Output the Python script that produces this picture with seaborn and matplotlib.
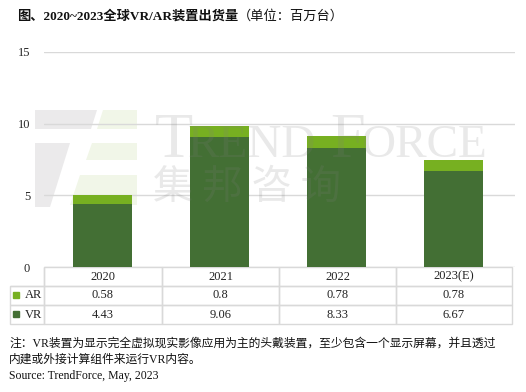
import numpy as np
import pandas as pd
import matplotlib
matplotlib.use('Agg')
import matplotlib.pyplot as plt
from matplotlib.patches import Polygon
import seaborn as sns

# Data (million units)
years = ['2020', '2021', '2022', '2023(E)']
vr_units = [4.43, 9.06, 8.33, 6.67]
ar_units = [0.58, 0.8, 0.78, 0.78]
yticks = [0, 5, 10, 15]

title_bold = '图、2020~2023全球VR/AR装置出货量'
title_unit = '（单位：百万台）'
note_lines = ['注：VR装置为显示完全虚拟现实影像应用为主的头戴装置，至少包含一个显示屏幕，并且透过',
              '内建或外接计算组件来运行VR内容。']
source_text = 'Source: TrendForce, May, 2023'

VR_COLOR = '#436F34'
AR_COLOR = '#77B021'
GRID_COLOR = '#D9D9D9'

sns.set_theme(style='white')
plt.rcParams['font.family'] = ['Liberation Serif', 'Noto Sans CJK SC', 'DejaVu Sans']

W, H = 526, 392
fig = plt.figure(figsize=(W / 100, H / 100), dpi=100)
fig.patch.set_facecolor('white')


def fx(px):
    return px / W


def fy(py):
    return 1 - py / H


# plot area in pixels
left, right, top, bottom = 44, 515, 52, 267
ax = fig.add_axes([fx(left), fy(bottom), fx(right - left), (bottom - top) / H])

df = pd.DataFrame({'year': years, 'VR': vr_units, 'AR': ar_units})
df['total'] = df['VR'] + df['AR']

sns.barplot(data=df, x='year', y='total', color=AR_COLOR, width=0.5,
            saturation=1, linewidth=0, ax=ax)
sns.barplot(data=df, x='year', y='VR', color=VR_COLOR, width=0.5,
            saturation=1, linewidth=0, ax=ax)

ax.set_xlim(-0.5, 3.5 + 3 / 117)
ax.set_ylim(0, 15)
ax.set_yticks(yticks)
ax.set_axisbelow(False)
ax.yaxis.grid(True, color=GRID_COLOR, linewidth=1)
ax.tick_params(axis='x', labelbottom=False, length=0)
ax.tick_params(axis='y', length=0, pad=10, labelsize=9)
ax.set_xlabel('')
ax.set_ylabel('')
for s in ax.spines.values():
    s.set_visible(False)
for bar in ax.patches:
    bar.set_zorder(3)
for gl in ax.get_ygridlines():
    gl.set_zorder(1)

# data table below the bars
axw = right - left
axh = bottom - top
tab_l, tab_r, tab_t, tab_b = 10, 512, 267, 324
cell_text = [[''] + years,
             ['AR'] + [f'{v:g}' for v in ar_units],
             ['VR'] + [f'{v:g}' for v in vr_units]]
tbl = ax.table(cellText=cell_text,
               colWidths=[34, 118, 117, 117, 116],
               cellLoc='center',
               bbox=[(tab_l - left) / axw, -(tab_b - bottom) / axh,
                     (tab_r - tab_l) / axw, (tab_b - tab_t) / axh])
tbl.auto_set_font_size(False)
for (r, c), cell in tbl.get_celld().items():
    cell.set_edgecolor(GRID_COLOR)
    cell.set_linewidth(1)
    cell.set_facecolor('none')
    cell.get_text().set_fontsize(9)
    cell.get_text().set_color('#222222')
    if c == 0:
        cell.get_text().set_ha('right')
        cell._loc = 'right'
        cell.PAD = 0.06
    if r == 0 and c == 0:
        cell.visible_edges = 'BR'
tbl.set_clip_on(False)

# legend squares in the row labels
for row_y, col in [(295, AR_COLOR), (314, VR_COLOR)]:
    ax.plot([(16 - left) / axw], [-(row_y - bottom) / axh], marker='s',
            markersize=4.6, color=col, transform=ax.transAxes, clip_on=False)

# title
t1 = fig.text(fx(17), fy(16), title_bold, fontsize=9.5, fontweight='bold',
              va='center', ha='left', color='#111111')
fig.canvas.draw()
bb = t1.get_window_extent()
fig.text(bb.x1 / (W), fy(16), title_unit, fontsize=9.5, va='center',
         ha='left', color='#111111')

# notes
fig.text(fx(9), fy(344), note_lines[0], fontsize=8.5, va='center', ha='left',
         color='#111111')
fig.text(fx(9), fy(360), note_lines[1], fontsize=8.5, va='center', ha='left',
         color='#111111')
fig.text(fx(9), fy(376), source_text, fontsize=8.5, va='center', ha='left',
         color='#111111')

# TrendForce watermark
wm = dict(color='#7f7f7f', alpha=0.17, va='baseline', ha='left', zorder=10)
fig.text(fx(155), fy(157), 'T', fontsize=45, **wm)
fig.text(fx(188), fy(157), 'REND', fontsize=34, **wm)
fig.text(fx(330), fy(157), 'F', fontsize=45, **wm)
fig.text(fx(361), fy(157), 'ORCE', fontsize=34, **wm)
fig.text(fx(153), fy(199), '集 邦 咨 询', fontsize=29,
         family=['Noto Sans CJK SC'], **wm)

# logo shapes, drawn under the grid and bars
def poly(pts, color):
    ax.add_patch(Polygon([(fx(x), fy(y)) for x, y in pts], closed=True,
                         transform=fig.transFigure, facecolor=color,
                         edgecolor='none', zorder=0.5, clip_on=False))

poly([(35, 110), (97, 110), (91, 129), (35, 129)], '#EBEAEB')
poly([(35, 143), (70, 143), (50, 207), (35, 207)], '#EBEAEB')
poly([(103, 110), (137, 110), (137, 129), (97, 129)], '#F1F6E8')
poly([(92, 143), (137, 143), (137, 160), (86, 160)], '#F1F6E8')
poly([(80, 175), (137, 175), (137, 205), (70, 205)], '#F1F6E8')

fig.savefig('out.png', dpi=100, facecolor='white')
